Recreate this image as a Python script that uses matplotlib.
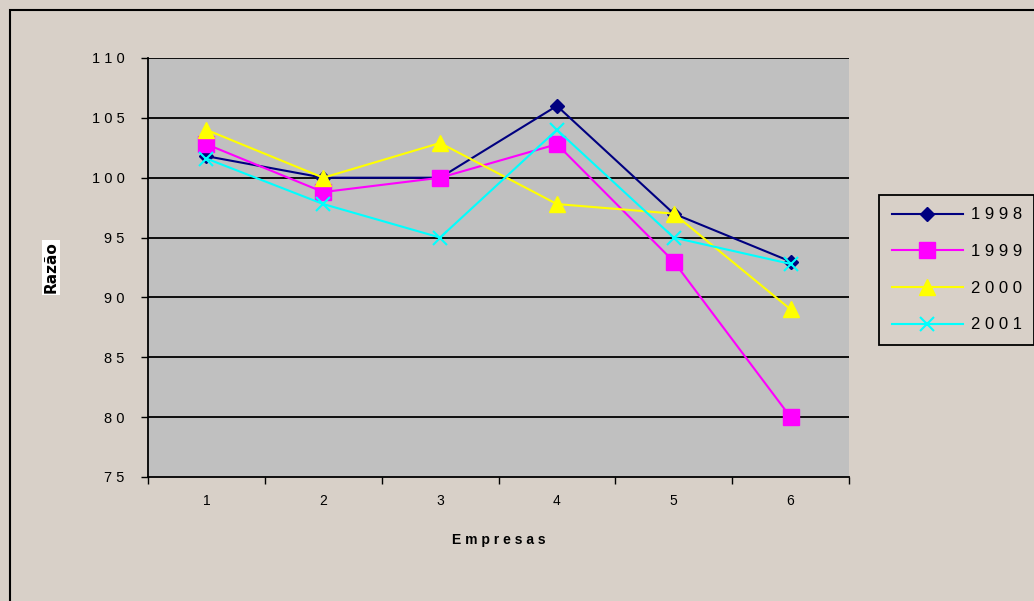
import matplotlib.pyplot as plt
from matplotlib.patches import Rectangle

empresas = [1, 2, 3, 4, 5, 6]
anos = ['1998', '1999', '2000', '2001']
v1998 = [101.8, 100.0, 100.0, 106.0, 97.0, 93.0]
v1999 = [102.8, 98.8, 100.0, 102.8, 93.0, 80.0]
v2000 = [104.0, 100.0, 102.9, 97.8, 97.0, 89.0]
v2001 = [101.6, 97.8, 95.0, 104.0, 95.0, 92.8]
yticks = [75, 80, 85, 90, 95, 100, 105, 110]


def spaced(s):
    return ' '.join(str(s))


bg = '#d8d0c8'
fig = plt.figure(figsize=(10.34, 6.01), dpi=100, facecolor=bg)
fig.patches.append(Rectangle((10 / 1034, -0.01), 1.02, (601 - 10) / 601 + 0.01,
                             transform=fig.transFigure, fill=False,
                             edgecolor='black', linewidth=1.5))

ax = fig.add_axes([148 / 1034, 1 - 477 / 601, 701 / 1034, 419 / 601])
ax.set_facecolor('#c0c0c0')

series = [
    (v1998, '#000080', 'D', 7, 1),
    (v1999, '#ff00ff', 's', 11, 1),
    (v2000, '#ffff00', '^', 11, 1),
    (v2001, '#00ffff', 'x', 10, 1.5),
]
handles = []
for (vals, c, m, ms, mew), name in zip(series, anos):
    h, = ax.plot(empresas, vals, color=c, marker=m, markersize=ms,
                 markeredgewidth=mew, markeredgecolor=c, linewidth=1.5,
                 label=spaced(name), zorder=3)
    handles.append(h)

ax.set_xlim(0.5, 6.5)
ax.set_ylim(75, 110)
ax.set_yticks(yticks)
ax.set_yticklabels([spaced(t) for t in yticks], fontsize=10.5,
                   family='Liberation Sans')
for t in yticks[1:]:
    ax.axhline(t, color='black', linewidth=1.3, zorder=1)

ax.set_xticks([i + 0.5 for i in range(0, 7)], minor=False)
ax.set_xticklabels([])
ax.set_xticks(empresas, minor=True)
ax.set_xticklabels([str(e) for e in empresas], minor=True, fontsize=10,
                   family='Liberation Sans')
ax.tick_params(axis='x', which='major', direction='out', length=5, width=1)
ax.tick_params(axis='x', which='minor', length=0, pad=12)
ax.tick_params(axis='y', direction='out', length=5, width=1, pad=12)

for s in ['top', 'right']:
    ax.spines[s].set_visible(False)
for s in ['left', 'bottom']:
    ax.spines[s].set_linewidth(1.3)

ax.set_xlabel(spaced('Empresas'), fontsize=10, fontweight='bold',
              family='Liberation Sans', labelpad=18)
ax.set_ylabel('Razão', fontsize=11, fontweight='bold', family='DejaVu Sans',
              bbox=dict(facecolor='white', edgecolor='none', pad=1))
ax.yaxis.set_label_coords(-0.128, 0.5)

leg = fig.legend(handles=handles, loc='upper left',
                 bbox_to_anchor=(879 / 1034, 1 - 195 / 601),
                 frameon=True, fancybox=False, edgecolor='black',
                 facecolor=bg, framealpha=1, handlelength=4.3,
                 borderpad=0.75, labelspacing=1.3, handletextpad=0.45,
                 prop={'family': 'Liberation Sans', 'size': 12},
                 borderaxespad=0)
leg.get_frame().set_linewidth(1.3)

fig.savefig('out.png', dpi=100, facecolor=bg)
